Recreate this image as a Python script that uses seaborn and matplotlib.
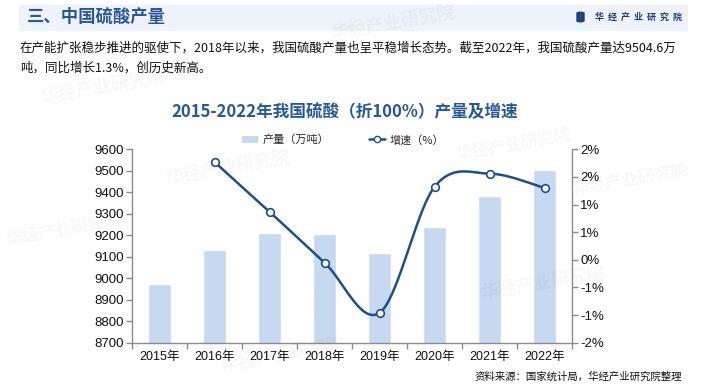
import numpy as np
import pandas as pd
import matplotlib
matplotlib.use("Agg")
import matplotlib.pyplot as plt
import seaborn as sns
from matplotlib.patches import Rectangle, Polygon, Patch
from matplotlib.lines import Line2D
from matplotlib.ticker import FuncFormatter, MultipleLocator

# 数据
years = ['2015年', '2016年', '2017年', '2018年', '2019年', '2020年', '2021年', '2022年']
output = [8973, 9132, 9211, 9206, 9118, 9239, 9383, 9504.6]   # 产量（万吨）
growth = [1.77, 0.87, -0.05, -0.96, 1.32, 1.56, 1.30]          # 增速（%），2016-2022

bar_color = '#c6d9f1'
line_color = '#1f4e8c'
title_color = '#2a5796'

sns.set_theme(style='white')
plt.rcParams['font.family'] = ['Liberation Sans', 'Noto Sans CJK SC']
cjk = ['Noto Sans CJK SC', 'DejaVu Sans']

fig = plt.figure(figsize=(7.05, 3.92), dpi=100)
W, H = 705, 392


def fx(px):
    return px / W


def fy(py):
    return 1 - py / H


# 水印
for (x, y, s) in [(40, 104, 13), (330, 40, 13), (165, 185, 13), (455, 160, 12),
                  (480, 300, 13), (572, 195, 12), (220, 372, 13), (5, 245, 12)]:
    fig.text(fx(x), fy(y), '华经产业研究院', fontsize=s, fontweight='bold', color='#000000',
             alpha=0.035, rotation=10, family=cjk, zorder=0)

# 顶部标题栏
fig.patches.append(Rectangle((fx(19), fy(30)), fx(687 - 19), 25 / H, transform=fig.transFigure,
                             color='#eef3fb', zorder=0))
fig.text(fx(27), fy(17), '三、中国硫酸产量', fontsize=12.5, fontweight='bold', color=title_color,
         family=cjk, va='center', ha='left')
fig.patches.append(Polygon([(fx(577), fy(13)), (fx(580), fy(12)), (fx(580), fy(22)), (fx(577), fy(21))],
                           transform=fig.transFigure, color='#1f3f7a', zorder=2))
fig.patches.append(Polygon([(fx(581), fy(12)), (fx(584), fy(13)), (fx(584), fy(21)), (fx(581), fy(22))],
                           transform=fig.transFigure, color='#1f3f7a', zorder=2))
fig.text(fx(682), fy(17), '华  经  产  业  研  究  院', fontsize=6.5, fontweight='bold', color='#1f3f7a',
         family=cjk, va='center', ha='right')

# 说明文字
fig.text(fx(20), fy(48), '在产能扩张稳步推进的驱使下，2018年以来，我国硫酸产量也呈平稳增长态势。截至2022年，我国硫酸产量达9504.6万',
         fontsize=9, color='#111111', family=cjk, va='center', ha='left')
fig.text(fx(20), fy(68), '吨，同比增长1.3%，创历史新高。',
         fontsize=9, color='#111111', family=cjk, va='center', ha='left')

# 图表标题
fig.text(fx(345), fy(112), '2015-2022年我国硫酸（折100%）产量及增速', fontsize=12, fontweight='bold',
         color=title_color, family=cjk, va='center', ha='center')

# 主坐标轴：柱状图
ax = fig.add_axes([fx(132), fy(342.7), fx(572 - 132), (342.7 - 149.3) / H])
ax.patch.set_alpha(0)
df = pd.DataFrame({'年份': years, '产量': output})
sns.barplot(data=df, x='年份', y='产量', color=bar_color, saturation=1, width=0.43, ax=ax, zorder=2)
ax.set_ylim(8700, 9600)
ax.set_xlim(-0.5, len(years) - 0.5)
ax.yaxis.set_major_locator(MultipleLocator(100))
ax.set_xlabel('')
ax.set_ylabel('')

# 次坐标轴：增速折线（平滑）
ax2 = ax.twinx()
ax2.set_ylim(-1.5, 2.0)
ax2.yaxis.set_major_locator(MultipleLocator(0.5))


def pct(v, pos):
    r = int(np.sign(v) * np.floor(abs(v) + 0.5 + 1e-9))
    return f'{r}%'


ax2.yaxis.set_major_formatter(FuncFormatter(pct))

gx = np.arange(1, len(years), dtype=float)
gy = np.array(growth, dtype=float)
px = np.concatenate([[gx[0]], gx, [gx[-1]]])
py = np.concatenate([[gy[0]], gy, [gy[-1]]])
sx, sy = [], []
t = np.linspace(0, 1, 40)
for i in range(1, len(px) - 2):
    p0 = np.array([px[i], py[i]])
    p3 = np.array([px[i + 1], py[i + 1]])
    p1 = p0 + (np.array([px[i + 1], py[i + 1]]) - np.array([px[i - 1], py[i - 1]])) / 6
    p2 = p3 - (np.array([px[i + 2], py[i + 2]]) - np.array([px[i], py[i]])) / 6
    b = ((1 - t) ** 3)[:, None] * p0 + (3 * (1 - t) ** 2 * t)[:, None] * p1 \
        + (3 * (1 - t) * t ** 2)[:, None] * p2 + (t ** 3)[:, None] * p3
    sx.extend(b[:, 0])
    sy.extend(b[:, 1])
ax2.plot(sx, sy, color=line_color, lw=1.8, zorder=3)
ax2.plot(gx, gy, ls='none', marker='o', ms=5.5, mfc='white', mec=line_color, mew=1.2, zorder=4)

# 坐标轴样式
for a in (ax, ax2):
    a.spines['top'].set_visible(False)
    for side in ('left', 'right', 'bottom'):
        a.spines[side].set_color('#8c8c8c')
        a.spines[side].set_linewidth(1)
ax.spines['right'].set_visible(False)
ax2.spines['left'].set_visible(False)
ax2.spines['bottom'].set_visible(False)

ax.tick_params(axis='y', which='major', left=True, length=4, width=1, color='#8c8c8c',
               labelsize=9.5, labelcolor='#111111', pad=2)
ax2.tick_params(axis='y', which='major', right=True, length=4, width=1, color='#8c8c8c',
                labelsize=9.5, labelcolor='#111111', pad=2)
ax.tick_params(axis='x', which='major', bottom=False, length=0, labelsize=9,
               labelcolor='#111111', pad=6)
ax.set_xticks(np.arange(-0.5, len(years), 1), minor=True)
ax.tick_params(axis='x', which='minor', bottom=True, length=4, width=1, color='#8c8c8c')

# 图例
handles = [Patch(facecolor=bar_color, edgecolor='none'),
           Line2D([0], [0], color=line_color, lw=1.8, marker='o', ms=4.5, mfc='white', mec=line_color)]
fig.legend(handles, ['产量（万吨）', '增速（%）'], loc='center', bbox_to_anchor=(fx(343), fy(140)),
           ncol=2, frameon=False, prop={'family': cjk, 'size': 8}, handlelength=1.5,
           handletextpad=0.4, columnspacing=3.5)

# 数据来源
fig.text(fx(682), fy(377), '资料来源：国家统计局，华经产业研究院整理', fontsize=7.5, color='#111111',
         family=cjk, va='center', ha='right')

fig.savefig('out.png', dpi=100)
